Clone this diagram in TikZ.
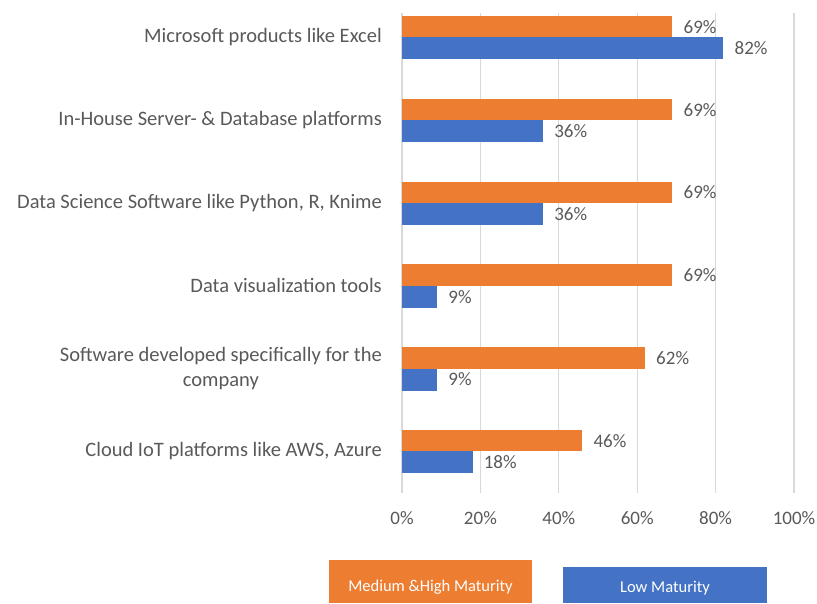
\documentclass[tikz,border=0pt]{standalone}
\usepackage{fontspec}
\setmainfont{Carlito}
\definecolor{orangebar}{HTML}{ED7D31}
\definecolor{bluebar}{HTML}{4472C4}
\definecolor{txtgray}{HTML}{595959}
\definecolor{gridgray}{HTML}{D9D9D9}

\begin{document}
\begin{tikzpicture}[x=1pt,y=-1pt,
        txt/.style={text=txtgray, font=\fontsize{19}{24}\selectfont, inner sep=0pt},
        cattxt/.style={text=txtgray, font=\fontsize{20.5}{25}\selectfont, inner sep=0pt},
        legtxt/.style={text=white, font=\fontsize{16.5}{20}\selectfont, inner sep=0pt}]
        \useasboundingbox (0,0) rectangle (817,603);
        \foreach \p in {0,20,...,100}
        {
            \draw[gridgray, line width=1.3pt] ({402+3.92*\p},13) -- ({402+3.92*\p},493);
            \node[txt] (tick\p) at ({402+3.92*\p},518) {\p\%};
        }
        \foreach \i/\cat/\o/\b in {1/{Microsoft products like Excel}/69/82,
                2/{In-House Server- \& Database platforms}/69/36,
                3/{Data Science Software like Python, R, Knime}/69/36,
                4/{Data visualization tools}/69/9,
                5/{Software developed specifically for the\\company}/62/9,
                6/{Cloud IoT platforms like AWS, Azure}/46/18}
        {
            \pgfmathsetmacro\yc{37.3+(\i-1)*82.8}
            \fill[orangebar] (402,\yc-21.3) rectangle ({402+3.92*\o},\yc);
            \fill[bluebar] (402,\yc) rectangle ({402+3.92*\b},\yc+22);
            \node[txt, anchor=west] (o\i) at ({402+3.92*\o+11},\yc-10.5) {\o\%};
            \node[txt, anchor=west] (b\i) at ({402+3.92*\b+11},\yc+11) {\b\%};
            \node[cattxt, anchor=east, align=center] (cat\i) at (382,\yc) {\cat};
        }
        \fill[orangebar] (329,560) rectangle (532,603);
        \fill[bluebar] (563,567) rectangle (767,603);
        \node[legtxt] (legmed) at (430.5,587) {Medium \&High Maturity};
        \node[legtxt] (leglow) at (665,588) {Low Maturity};
    \end{tikzpicture}
\end{document}
